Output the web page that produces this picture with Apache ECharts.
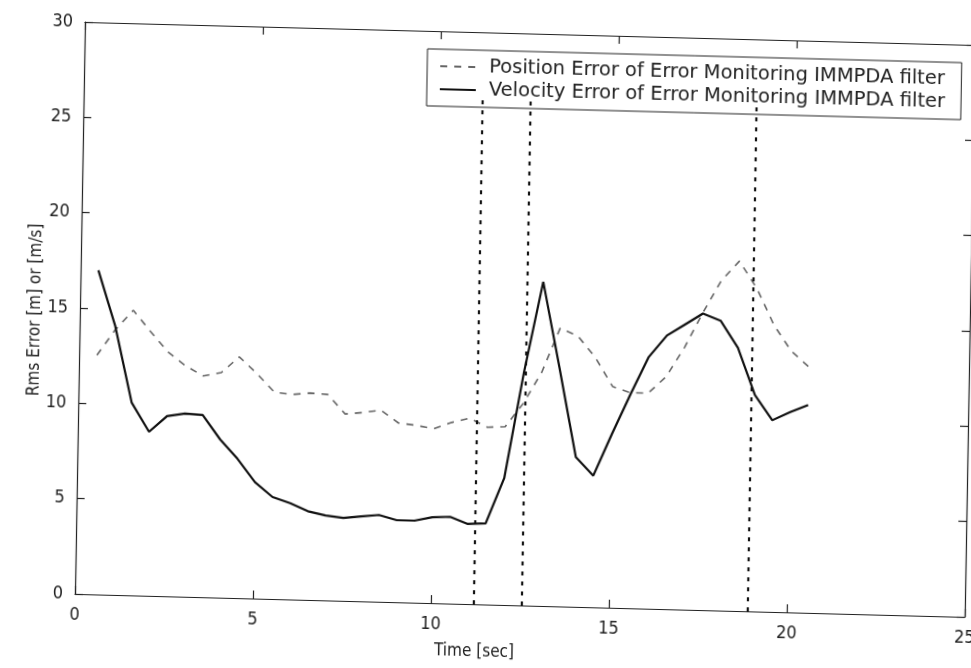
<!DOCTYPE html>
<html>
<head>
<meta charset="utf-8">
<script src="https://cdn.jsdelivr.net/npm/echarts@6/dist/echarts.min.js"></script>
<style>
  html, body { margin: 0; padding: 0; background: #fff; overflow: hidden; width: 971px; height: 668px; }
  #chart { width: 1000px; height: 690px; transform-origin: 0 0;
           transform: matrix(1, 0.02584, -0.01748, 1, 5.52, -10.07); }
</style>
</head>
<body>
<div id="chart"></div>
<script>
const time = [0.5, 1, 1.5, 2, 2.5, 3, 3.5, 4, 4.5, 5, 5.5, 6, 6.5, 7, 7.5, 8, 8.5, 9, 9.5, 10,
  10.5, 11, 11.5, 12, 12.5, 13, 13.5, 14, 14.5, 15, 15.5, 16, 16.5, 17, 17.5, 18, 18.5, 19, 19.5, 20, 20.5];
const positionError = [12.55, 13.9, 14.95, 13.85, 12.8, 12.1, 11.6, 11.8, 12.65, 11.8, 10.85, 10.75, 10.85, 10.8,
  9.8, 9.9, 10.05, 9.4, 9.3, 9.15, 9.5, 9.75, 9.3, 9.35, 10.6, 12.25, 14.6, 14.2, 13.1, 11.6, 11.3, 11.3, 12.2,
  13.75, 15.6, 17.3, 18.35, 16.95, 15.05, 13.7, 12.9];
const velocityError = [17.0, 14.1, 10.1, 8.6, 9.45, 9.6, 9.55, 8.3, 7.3, 6.1, 5.35, 5.05, 4.65, 4.45, 4.35, 4.45,
  4.55, 4.3, 4.3, 4.5, 4.55, 4.2, 4.25, 6.65, 12.2, 17.0, 12.5, 7.85, 6.9, 9.1, 11.2, 13.2, 14.35, 14.95, 15.55,
  15.2, 13.8, 11.35, 10.05, 10.5, 10.9];
const markerTimes = [11.2, 12.55, 18.9];
const markerTop = 26.5;
const seriesNames = ['Position Error of Error Monitoring IMMPDA filter', 'Velocity Error of Error Monitoring IMMPDA filter'];
const xAxisName = 'Time [sec]';
const yAxisName = 'Rms Error [m] or [m/s]';

const tickFont = "'DejaVu Sans Condensed', 'Liberation Sans', Arial, sans-serif";
const ink = '#222';
const axisLine = { show: true, onZero: false, lineStyle: { color: ink, width: 1.2 } };
const axisTick = { show: true, inside: true, length: 8, lineStyle: { color: ink, width: 1.2 } };

const chart = echarts.init(document.getElementById('chart'), null, { renderer: 'canvas' });
chart.setOption({
  backgroundColor: '#fff',
  animation: false,
  grid: { left: 80, top: 30, width: 890, height: 572, show: false },
  legend: {
    left: 423, top: 48, orient: 'vertical', align: 'left',
    padding: [7, 16, 7, 12], itemWidth: 36, itemHeight: 12, itemGap: 3,
    backgroundColor: '#fff', borderColor: ink, borderWidth: 1, borderRadius: 0,
    itemStyle: { opacity: 0 },
    textStyle: { fontFamily: "'DejaVu Sans', sans-serif", fontSize: 19.5, color: ink, lineHeight: 20, padding: [0, 0, 0, 8] },
    data: seriesNames
  },
  xAxis: [{
    type: 'value', min: 0, max: 25, interval: 5, position: 'bottom',
    axisLine, axisTick, splitLine: { show: false },
    axisLabel: { margin: 12, fontFamily: tickFont, fontSize: 18, color: ink },
    name: xAxisName, nameLocation: 'middle', nameGap: 39,
    nameTextStyle: { fontFamily: tickFont, fontSize: 17, color: ink, padding: [0, 90, 0, 0] }
  }, {
    type: 'value', min: 0, max: 25, interval: 5, position: 'top',
    axisLine, axisTick, splitLine: { show: false }, axisLabel: { show: false }
  }],
  yAxis: [{
    type: 'value', min: 0, max: 30, interval: 5, position: 'left',
    axisLine, axisTick, splitLine: { show: false },
    axisLabel: { margin: 12, fontFamily: tickFont, fontSize: 18, color: ink },
    name: yAxisName, nameLocation: 'middle', nameGap: 36, nameRotate: 90, nameMoveOverlap: false,
    nameTextStyle: { fontFamily: tickFont, fontSize: 17, color: ink, padding: [0, 6, 0, 0] }
  }, {
    type: 'value', min: 0, max: 30, interval: 5, position: 'right',
    axisLine, axisTick, splitLine: { show: false }, axisLabel: { show: false }
  }],
  series: [{
    name: seriesNames[0], type: 'line', symbol: 'none', z: 3,
    data: time.map((t, i) => [t, positionError[i]]),
    lineStyle: { color: '#666', width: 1.6, type: [7, 7] },
    itemStyle: { color: '#666' },
    markLine: {
      silent: true, symbol: ['none', 'none'], label: { show: false },
      lineStyle: { color: '#111', width: 2.2, type: [4, 6] },
      data: markerTimes.map(t => [{ coord: [t, 0] }, { coord: [t, markerTop] }])
    }
  }, {
    name: seriesNames[1], type: 'line', symbol: 'none', z: 3,
    data: time.map((t, i) => [t, velocityError[i]]),
    lineStyle: { color: '#111', width: 2.2 },
    itemStyle: { color: '#111' }
  }]
});
</script>
</body>
</html>
